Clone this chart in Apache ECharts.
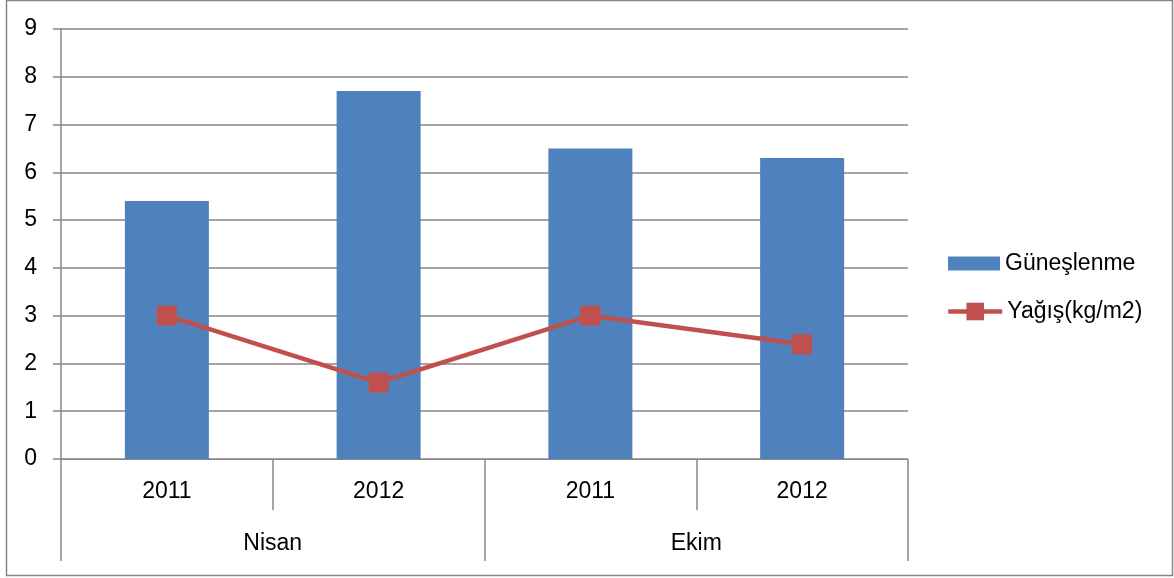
<!DOCTYPE html>
<html>
<head>
<meta charset="utf-8">
<script src="https://cdn.jsdelivr.net/npm/echarts@6/dist/echarts.min.js"></script>
<style>
  html, body { margin: 0; padding: 0; background: #fff; }
  #chart { width: 1174px; height: 578px; }
</style>
</head>
<body>
<div id="chart"></div>
<script>
// Yearly values per month (Nisan 2011, Nisan 2012, Ekim 2011, Ekim 2012)
const years = ['2011', '2012', '2011', '2012'];
const months = ['Nisan', 'Ekim'];
const gunes = [5.4, 7.7, 6.5, 6.3];
const yagis = [3, 1.6, 3, 2.4];
const yTicks = [0, 1, 2, 3, 4, 5, 6, 7, 8, 9];

const FONT = 'Liberation Sans';
const FS = 23;
const AXIS = '#868686';
const BLUE = '#4F81BD';
const RED = '#C0504D';

const chart = echarts.init(document.getElementById('chart'), null, { renderer: 'canvas' });

chart.setOption({
  animation: false,
  backgroundColor: '#fff',
  textStyle: { fontFamily: FONT, color: '#000' },
  grid: { left: 61, right: 266, top: 29, bottom: 119, containLabel: false },
  xAxis: [
    {
      type: 'category',
      data: years,
      position: 'bottom',
      boundaryGap: true,
      axisLine: { show: true, lineStyle: { color: AXIS, width: 1 } },
      axisTick: { show: true, interval: 0, length: 51, lineStyle: { color: AXIS, width: 1.5 } },
      axisLabel: { interval: 0, margin: 21, fontSize: FS, color: '#000', fontFamily: FONT }
    },
    {
      type: 'category',
      data: months,
      position: 'bottom',
      boundaryGap: true,
      axisLine: { show: false },
      axisTick: { show: true, interval: 0, length: 102, lineStyle: { color: AXIS, width: 1.5 } },
      axisLabel: { interval: 0, margin: 73, fontSize: FS, color: '#000', fontFamily: FONT },
      splitLine: { show: false }
    }
  ],
  yAxis: {
    type: 'value',
    min: yTicks[0],
    max: yTicks[yTicks.length - 1],
    interval: 1,
    axisLine: { show: true, lineStyle: { color: AXIS, width: 1.5 } },
    axisTick: { show: true, length: 8, lineStyle: { color: AXIS, width: 1.5 } },
    axisLabel: { margin: 24, fontSize: FS, color: '#000', fontFamily: FONT },
    splitLine: { show: true, lineStyle: { color: AXIS, width: 1.5 } }
  },
  legend: [
    {
      data: [{ name: 'Güneşlenme', icon: 'rect' }],
      left: 948,
      top: 252,
      itemWidth: 52,
      itemHeight: 14,
      textStyle: { fontSize: FS, color: '#000', fontFamily: FONT },
      padding: 0
    },
    {
      data: ['Yağış(kg/m2)'],
      left: 946,
      top: 300,
      itemWidth: 54,
      itemHeight: 22,
      lineStyle: { width: 4.5, color: RED },
      textStyle: { fontSize: FS, color: '#000', fontFamily: FONT },
      padding: 0
    }
  ],
  graphic: [
    {
      type: 'rect',
      shape: { x: 6.5, y: 0.5, width: 1166, height: 575 },
      style: { fill: null, stroke: AXIS, lineWidth: 1.5 },
      silent: true,
      z: -1
    }
  ],
  series: [
    {
      name: 'Güneşlenme',
      type: 'bar',
      data: gunes,
      barWidth: 84,
      itemStyle: { color: BLUE },
      z: 2
    },
    {
      name: 'Yağış(kg/m2)',
      type: 'line',
      data: yagis,
      symbol: 'rect',
      symbolSize: 20,
      lineStyle: { color: RED, width: 4.5 },
      itemStyle: { color: RED },
      z: 3
    }
  ]
});
</script>
</body>
</html>
